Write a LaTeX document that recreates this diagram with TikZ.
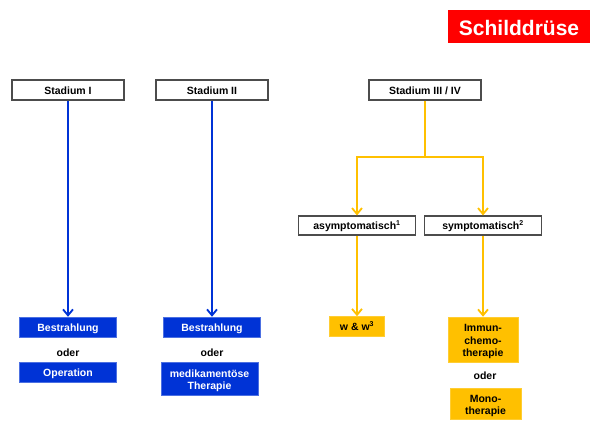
\documentclass[tikz,border=0pt]{standalone}
\usepackage{fontspec}
\setmainfont{Liberation Sans}
\usetikzlibrary{arrows.meta}
\definecolor{myblue}{RGB}{0,51,214}
\definecolor{myyellow}{RGB}{255,192,0}
\definecolor{myred}{RGB}{255,0,0}
\begin{document}
\begin{tikzpicture}[x=1pt,y=-1pt,
  font=\fontsize{10.5}{12.5}\selectfont\bfseries,
  oneline/.style={text height=9.2pt,text depth=0.6pt},
  stagebox/.style={draw=black!70,line width=1.1pt,fill=white,inner sep=0pt,oneline,minimum width=112pt,minimum height=20pt},
  bluebox/.style={fill=myblue,draw=myblue!70,line width=0.5pt,text=white,inner sep=0pt,minimum width=97pt,minimum height=20pt},
  yelbox/.style={fill=myyellow,draw=myyellow!80!white,line width=0.5pt,text=black,inner sep=0pt,minimum height=20pt},
  multi/.style={align=center,text depth=0pt},
  subbox/.style={draw=black!70,line width=1.1pt,fill=white,inner sep=0pt,oneline,minimum width=117pt,minimum height=19pt},
  orlabel/.style={inner sep=0pt,oneline},
  bluearrow/.style={draw=myblue,line width=2pt,-{Straight Barb[length=6pt,width=10pt,line width=1.8pt]}},
  yelarrow/.style={draw=myyellow,line width=2pt,-{Straight Barb[length=6pt,width=10pt,line width=1.8pt]}},
  yelline/.style={draw=myyellow,line width=2pt}
]
\useasboundingbox (0,0) rectangle (600,431);
% title
\node[fill=myred,text=white,inner sep=0pt,minimum width=142pt,minimum height=33pt,text height=17pt,text depth=0pt,font=\fontsize{21}{24}\selectfont\bfseries] (title) at (519,26.5) {Schilddrüse};
% stages
\node[stagebox] (s1) at (68,90) {Stadium I};
\node[stagebox] (s2) at (212,90) {Stadium II};
\node[stagebox] (s3) at (425,90) {Stadium III / IV};
% blue column 1
\node[bluebox,oneline] (b1) at (68,327) {Bestrahlung};
\node[orlabel] (o1) at (68,352) {oder};
\node[bluebox,oneline] (op) at (68,372) {Operation};
% blue column 2
\node[bluebox,oneline] (b2) at (212,327) {Bestrahlung};
\node[orlabel] (o2) at (212,352) {oder};
\node[bluebox,multi,text height=22pt,minimum height=33pt] (med) at (209.5,378.5) {medikamentöse\\Therapie};
\draw[bluearrow] (s1.south -| b1.north) -- (b1.north);
\draw[bluearrow] (s2.south -| b2.north) -- (b2.north);
% yellow branch
\node[subbox] (asy) at (357,225.5) {asymptomatisch\textsuperscript{\fontsize{7}{8}\selectfont 1}};
\node[subbox] (sym) at (483,225.5) {symptomatisch\textsuperscript{\fontsize{7}{8}\selectfont 2}};
\coordinate (split) at (425,157);
\coordinate (lsplit) at (357,157);
\coordinate (rsplit) at (483,157);
\draw[yelline] (s3.south) -- (split);
\draw[yelline,line cap=rect] (lsplit) -- (rsplit);
\draw[yelarrow] (lsplit) -- (lsplit |- asy.north);
\draw[yelarrow] (rsplit) -- (rsplit |- sym.north);
\node[yelbox,oneline,minimum width=55pt] (ww) at (357,326.5) {w \& w\textsuperscript{\fontsize{7}{8}\selectfont 3}};
\node[yelbox,multi,text height=34.5pt,minimum width=70pt,minimum height=45pt] (imm) at (483,339.5) {Immun-\\chemo-\\therapie};
\node[orlabel] (o3) at (485,375) {oder};
\node[yelbox,multi,text height=22pt,minimum width=71pt,minimum height=31pt] (mono) at (485.5,403.5) {Mono-\\therapie};
\draw[yelarrow] (asy.south -| ww.north) -- (ww.north);
\draw[yelarrow] (sym.south -| imm.north) -- (imm.north);
\end{tikzpicture}
\end{document}
